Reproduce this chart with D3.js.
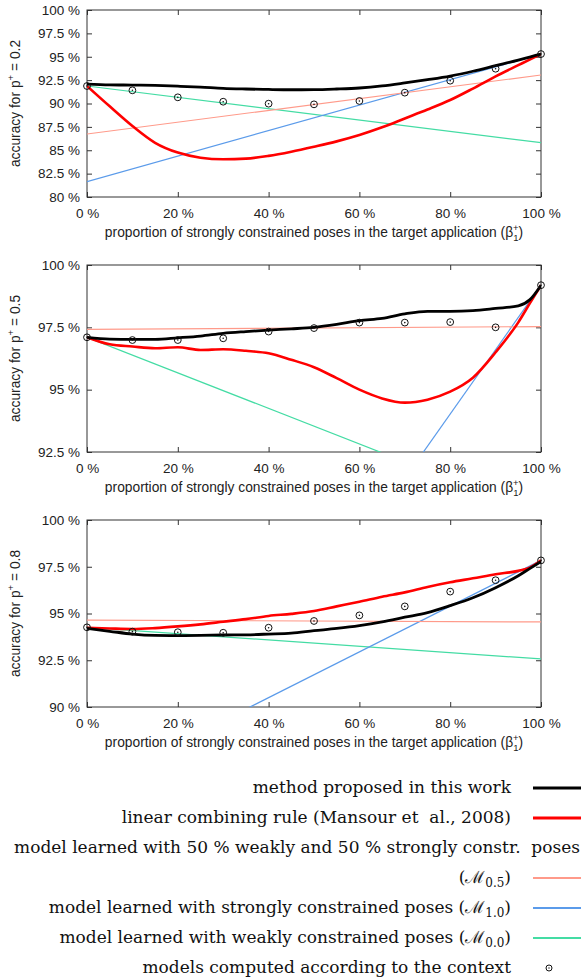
<!DOCTYPE html>
<html>
<head>
<meta charset="utf-8">
<script src="https://cdn.jsdelivr.net/npm/d3@7"></script>
<style>
  body { margin: 0; background: #fff; }
  svg { display: block; }
  .axis text { font-family: "Liberation Sans", Arial, sans-serif; font-size: 13.5px; fill: #222; }
  .axis line { stroke: #333; }
  .label { font-family: "Liberation Sans", Arial, sans-serif; font-size: 13.8px; fill: #222; }
  .legend text { font-family: "DejaVu Serif", serif; font-size: 17px; fill: #111; }
</style>
</head>
<body>
<svg id="chart"></svg>
<script>
// x positions (% of strongly constrained poses)
const xCurve = [0, 5, 10, 15, 20, 25, 30, 35, 40, 45, 50, 55, 60, 65, 70, 75, 80, 85, 90, 95, 97.5, 100];
const xContext = [0, 10, 20, 30, 40, 50, 60, 70, 80, 90, 100];
const xModel = [0, 100];
const xTicks = [0, 20, 40, 60, 80, 100];

// p+ = 0.2
const proposed02 = [92.08, 92.0, 91.97, 91.93, 91.85, 91.75, 91.62, 91.55, 91.5, 91.47, 91.48, 91.55, 91.66, 91.88, 92.2, 92.55, 92.94, 93.45, 94.05, 94.65, 94.97, 95.29];
const linear02 = [91.87, 89.7, 87.6, 85.8, 84.75, 84.2, 84.03, 84.1, 84.4, 84.85, 85.38, 85.95, 86.63, 87.45, 88.4, 89.35, 90.37, 91.6, 92.9, 94.1, 94.7, 95.29];
const context02 = [91.87, 91.41, 90.66, 90.19, 89.98, 89.91, 90.27, 91.16, 92.44, 93.72, 95.29];
const m05_02 = [86.74, 93.05];
const m10_02 = [81.64, 95.29];
const m00_02 = [91.87, 85.81];
const yTicks02 = [80, 82.5, 85, 87.5, 90, 92.5, 95, 97.5, 100];

// p+ = 0.5
const proposed05 = [97.1, 97.03, 97.02, 97.02, 97.08, 97.15, 97.26, 97.33, 97.39, 97.44, 97.5, 97.62, 97.77, 97.86, 98.04, 98.14, 98.14, 98.17, 98.26, 98.36, 98.6, 99.19];
const linear05 = [97.1, 96.82, 96.73, 96.66, 96.7, 96.59, 96.62, 96.56, 96.46, 96.2, 95.9, 95.46, 95.0, 94.65, 94.48, 94.6, 94.92, 95.48, 96.5, 97.7, 98.45, 99.19];
const context05 = [97.1, 96.99, 96.99, 97.06, 97.33, 97.47, 97.69, 97.69, 97.71, 97.5, 99.19];
const m05_05 = [97.42, 97.53];
const m10_05 = [73.36, 99.19];
const m00_05 = [97.1, 89.97];
const yTicks05 = [92.5, 95, 97.5, 100];

// p+ = 0.8
const proposed08 = [94.2, 94.05, 93.9, 93.83, 93.82, 93.83, 93.85, 93.86, 93.9, 93.95, 94.08, 94.2, 94.35, 94.55, 94.8, 95.05, 95.42, 95.84, 96.38, 97.02, 97.4, 97.77];
const linear08 = [94.24, 94.2, 94.17, 94.22, 94.31, 94.42, 94.56, 94.7, 94.87, 94.98, 95.13, 95.38, 95.63, 95.9, 96.13, 96.42, 96.67, 96.88, 97.1, 97.28, 97.45, 97.84];
const context08 = [94.26, 94.03, 94.0, 93.97, 94.24, 94.6, 94.9, 95.38, 96.17, 96.78, 97.84];
const m05_08 = [94.65, 94.55];
const m10_08 = [85.61, 97.84];
const m00_08 = [94.26, 92.57];
const yTicks08 = [90, 92.5, 95, 97.5, 100];

const colors = { proposed: '#000000', linear: '#ff0000', m05: '#ff9a8a', m10: '#5b9bea', m00: '#44dca4' };

const width = 581, height = 977;
const left = 87, plotW = 454, plotH = 187;
const panelTops = [10, 265, 520];

const panels = [
  { p: '0.2', ticks: yTicks02, proposed: proposed02, linear: linear02, context: context02, m05: m05_02, m10: m10_02, m00: m00_02 },
  { p: '0.5', ticks: yTicks05, proposed: proposed05, linear: linear05, context: context05, m05: m05_05, m10: m10_05, m00: m00_05 },
  { p: '0.8', ticks: yTicks08, proposed: proposed08, linear: linear08, context: context08, m05: m05_08, m10: m10_08, m00: m00_08 }
];

const svg = d3.select('#chart').attr('width', width).attr('height', height);
const defs = svg.append('defs');

const zip = (xs, ys) => xs.map((v, i) => [v, ys[i]]);

function drawPanel(panel, i) {
  const top = panelTops[i];
  const x = d3.scaleLinear().domain([0, 100]).range([left, left + plotW]);
  const y = d3.scaleLinear().domain(d3.extent(panel.ticks)).range([top + plotH, top]);
  const g = svg.append('g').attr('class', 'panel');

  defs.append('clipPath').attr('id', 'clip' + i)
    .append('rect').attr('x', left).attr('y', top).attr('width', plotW).attr('height', plotH);

  // axes, gnuplot style: ticks inside on all four sides
  g.append('g').attr('class', 'axis')
    .attr('transform', `translate(${left},0)`)
    .call(d3.axisLeft(y).tickValues(panel.ticks).tickSize(-5).tickPadding(7).tickFormat(d => d + ' %'))
    .call(a => a.select('.domain').remove());
  g.append('g').attr('class', 'axis')
    .attr('transform', `translate(${left + plotW},0)`)
    .call(d3.axisRight(y).tickValues(panel.ticks).tickSize(-5).tickFormat(''))
    .call(a => a.select('.domain').remove());
  g.append('g').attr('class', 'axis')
    .attr('transform', `translate(0,${top + plotH})`)
    .call(d3.axisBottom(x).tickValues(xTicks).tickSize(-5).tickPadding(11).tickFormat(d => d + ' %'))
    .call(a => a.select('.domain').remove());
  g.append('g').attr('class', 'axis')
    .attr('transform', `translate(0,${top})`)
    .call(d3.axisTop(x).tickValues(xTicks).tickSize(-5).tickFormat(''))
    .call(a => a.select('.domain').remove());

  g.append('rect')
    .attr('x', left).attr('y', top).attr('width', plotW).attr('height', plotH)
    .attr('fill', 'none').attr('stroke', '#333').attr('stroke-width', 1);

  const curve = d3.line().x(d => x(d[0])).y(d => y(d[1])).curve(d3.curveMonotoneX);
  const straight = d3.line().x(d => x(d[0])).y(d => y(d[1]));
  const lines = g.append('g').attr('clip-path', `url(#clip${i})`);

  lines.append('path').datum(zip(xModel, panel.m00)).attr('d', straight)
    .attr('fill', 'none').attr('stroke', colors.m00).attr('stroke-width', 1.2);
  lines.append('path').datum(zip(xModel, panel.m10)).attr('d', straight)
    .attr('fill', 'none').attr('stroke', colors.m10).attr('stroke-width', 1.2);
  lines.append('path').datum(zip(xModel, panel.m05)).attr('d', straight)
    .attr('fill', 'none').attr('stroke', colors.m05).attr('stroke-width', 1.2);
  lines.append('path').datum(zip(xCurve, panel.linear)).attr('d', curve)
    .attr('fill', 'none').attr('stroke', colors.linear).attr('stroke-width', 2.6);
  lines.append('path').datum(zip(xCurve, panel.proposed)).attr('d', curve)
    .attr('fill', 'none').attr('stroke', colors.proposed).attr('stroke-width', 2.8);

  const pts = g.selectAll('.ctx').data(zip(xContext, panel.context)).enter().append('g')
    .attr('class', 'ctx')
    .attr('transform', d => `translate(${x(d[0])},${y(d[1])})`);
  pts.append('circle').attr('r', 3.4).attr('fill', 'none').attr('stroke', '#111').attr('stroke-width', 1);
  pts.append('circle').attr('r', 0.8).attr('fill', '#111');

  // y label
  const yl = g.append('text').attr('class', 'label')
    .attr('text-anchor', 'middle')
    .attr('transform', `translate(20,${top + plotH / 2}) rotate(-90)`);
  yl.append('tspan').text('accuracy for p');
  yl.append('tspan').attr('dy', -6).attr('font-size', '9.5px').text('+');
  yl.append('tspan').attr('dy', 6).text(' = ' + panel.p);

  // x label
  const xl = g.append('text').attr('class', 'label')
    .attr('text-anchor', 'middle')
    .attr('x', left + plotW / 2).attr('y', top + plotH + 40);
  xl.append('tspan').text('proportion of strongly constrained poses in the target application (β');
  xl.append('tspan').attr('dy', 4).attr('font-size', '9.5px').text('1');
  xl.append('tspan').attr('dy', -10).attr('dx', -5.5).attr('font-size', '9.5px').text('+');
  xl.append('tspan').attr('dy', 6).text(')');
}

panels.forEach(drawPanel);

// legend
const legendRows = [
  { label: 'method proposed in this work', color: colors.proposed, w: 3 },
  { label: 'linear combining rule (Mansour et  al., 2008)', color: colors.linear, w: 3 },
  { label: 'model learned with 50 % weakly and 50 % strongly constr.  poses', overflow: true },
  { label: '(ℳ', sub: '0.5', tail: ')', color: colors.m05, w: 2 },
  { label: 'model learned with strongly constrained poses (ℳ', sub: '1.0', tail: ')', color: colors.m10, w: 2 },
  { label: 'model learned with weakly constrained poses (ℳ', sub: '0.0', tail: ')', color: colors.m00, w: 2 },
  { label: 'models computed according to the context', marker: true }
];

const legend = svg.append('g').attr('class', 'legend');
legendRows.forEach((row, i) => {
  const cy = 788 + i * 30;
  const t = legend.append('text')
    .attr('x', row.overflow ? 580 : 511).attr('y', cy + 5)
    .attr('text-anchor', 'end')
    .attr('xml:space', 'preserve');
  t.append('tspan').text(row.label);
  if (row.sub) {
    t.append('tspan').attr('dy', 4).attr('font-size', '12px').text(row.sub);
    t.append('tspan').attr('dy', -4).text(row.tail);
  }
  if (row.color) {
    legend.append('line')
      .attr('x1', 533).attr('x2', 581).attr('y1', cy).attr('y2', cy)
      .attr('stroke', row.color).attr('stroke-width', row.w);
  }
  if (row.marker) {
    legend.append('circle').attr('cx', 549).attr('cy', cy).attr('r', 3)
      .attr('fill', 'none').attr('stroke', '#111').attr('stroke-width', 1);
    legend.append('circle').attr('cx', 549).attr('cy', cy).attr('r', 0.7).attr('fill', '#111');
  }
});
</script>
</body>
</html>
